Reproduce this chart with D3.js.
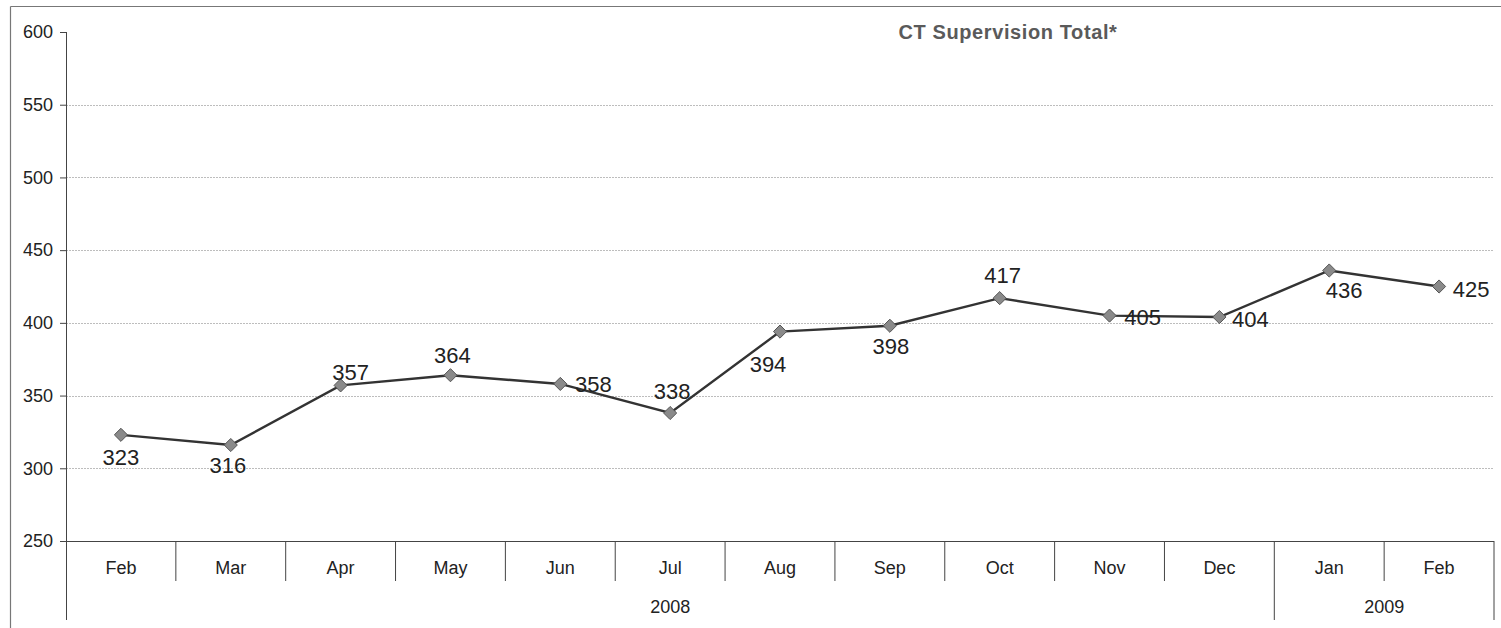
<!DOCTYPE html>
<html>
<head>
<meta charset="utf-8">
<script src="https://cdn.jsdelivr.net/npm/d3@7"></script>
<style>
body { margin:0; background:#fff; }
text { font-family: Arial, "Liberation Sans", sans-serif; }
</style>
</head>
<body>
<svg id="graph1"></svg>
<script>
var months = ["Feb","Mar","Apr","May","Jun","Jul","Aug","Sep","Oct","Nov","Dec","Jan","Feb"]
var years = ["2008","2008","2008","2008","2008","2008","2008","2008","2008","2008","2008","2009","2009"]
var totals = [323,316,357,364,358,338,394,398,417,405,404,436,425]
var yTicks = [250,300,350,400,450,500,550,600]

// where each data label sits relative to its point [dx, dy]
var labelNudge = [[0,30],[-3,28],[10,-5],[2,-12],[33,8],[2,-14],[-12,40],[1,28],[3,-15],[33,9],[31,10],[15,27],[32,10]]

var screen = {width:1501, height:628}
var margins = {left:66, right:7, top:32, bottom:87}
var graph = {
    width: screen.width-margins.left-margins.right,
    height: screen.height-margins.top-margins.bottom
}

var svg = d3.select("#graph1")
    .attr("width", screen.width)
    .attr("height", screen.height)

// outer chart frame
svg.append("line").attr("x1",10.5).attr("x2",10.5).attr("y1",6.5).attr("y2",screen.height)
    .attr("stroke","#777").attr("stroke-width",1.2)
svg.append("line").attr("x1",10.5).attr("x2",screen.width).attr("y1",6.5).attr("y2",6.5)
    .attr("stroke","#777").attr("stroke-width",1.2)

var data = totals.map(function(v,i){ return {idx:i, month:months[i], year:years[i], total:v} })

var xScale = d3.scaleBand()
    .domain(d3.range(months.length))
    .range([0, graph.width])

var yScale = d3.scaleLinear()
    .domain([250,600])
    .range([graph.height,0])

var target = svg.append("g")
    .attr("transform","translate("+margins.left+","+margins.top+")")

// gridlines
target.append("g").selectAll("line")
    .data(yTicks.filter(function(t){ return t>250 && t<600 }))
    .enter().append("line")
    .attr("x1",0).attr("x2",graph.width)
    .attr("y1",function(t){ return Math.round(yScale(t))+0.5 })
    .attr("y2",function(t){ return Math.round(yScale(t))+0.5 })
    .attr("stroke","#bdbdbd")
    .attr("stroke-dasharray","2,1")

// y axis
var yAxis = d3.axisLeft(yScale).tickValues(yTicks).tickSize(6).tickPadding(7)
var yG = target.append("g").call(yAxis)
yG.select(".domain").remove()
yG.selectAll("line").attr("stroke","#444")
yG.selectAll("text").attr("font-size","18px").attr("fill","#222")
    .attr("font-family","Arial, 'Liberation Sans', sans-serif")
target.append("line").attr("x1",0.5).attr("x2",0.5).attr("y1",0).attr("y2",graph.height+79)
    .attr("stroke","#444")

// category axis
target.append("line").attr("x1",0).attr("x2",graph.width)
    .attr("y1",graph.height+0.5).attr("y2",graph.height+0.5).attr("stroke","#444")

var cat = target.append("g").attr("transform","translate(0,"+graph.height+")")
cat.selectAll(".sep")
    .data(d3.range(1, months.length+1))
    .enter().append("line")
    .attr("x1",function(i){ return i<months.length ? xScale(i) : graph.width })
    .attr("x2",function(i){ return i<months.length ? xScale(i) : graph.width })
    .attr("y1",0)
    .attr("y2",function(i){ return (i==months.length || years[i]!=years[i-1]) ? 79 : 40 })
    .attr("stroke","#444")

cat.selectAll(".month")
    .data(data).enter().append("text")
    .attr("x",function(d){ return xScale(d.idx)+xScale.bandwidth()/2 })
    .attr("y",33)
    .attr("text-anchor","middle")
    .attr("font-size","18px").attr("fill","#222")
    .text(function(d){ return d.month })

var yearGroups = d3.groups(data, function(d){ return d.year })
cat.selectAll(".year")
    .data(yearGroups).enter().append("text")
    .attr("x",function(g){
        var first = g[1][0].idx, last = g[1][g[1].length-1].idx
        return (xScale(first)+xScale(last)+xScale.bandwidth())/2
    })
    .attr("y",72)
    .attr("text-anchor","middle")
    .attr("font-size","18px").attr("fill","#222")
    .text(function(g){ return g[0] })

// line
var line = d3.line()
    .x(function(d){ return xScale(d.idx)+xScale.bandwidth()/2 })
    .y(function(d){ return yScale(d.total) })

target.append("path").datum(data)
    .attr("d",line)
    .attr("fill","none")
    .attr("stroke","#333")
    .attr("stroke-width",2.4)

target.selectAll(".pt")
    .data(data).enter().append("path")
    .attr("d", d3.symbol().type(d3.symbolDiamond2).size(110))
    .attr("transform",function(d){
        return "translate("+(xScale(d.idx)+xScale.bandwidth()/2)+","+yScale(d.total)+")"
    })
    .attr("fill","#8a8a8a")
    .attr("stroke","#555")
    .attr("stroke-width",1)

target.selectAll(".lbl")
    .data(data).enter().append("text")
    .attr("x",function(d){ return xScale(d.idx)+xScale.bandwidth()/2+labelNudge[d.idx][0] })
    .attr("y",function(d){ return yScale(d.total)+labelNudge[d.idx][1] })
    .attr("text-anchor","middle")
    .attr("font-size","22px").attr("fill","#222")
    .text(function(d){ return d.total })

// title
svg.append("text")
    .text("CT Supervision Total*")
    .attr("x",1008).attr("y",39)
    .attr("text-anchor","middle")
    .attr("font-size","20px").attr("font-weight","bold")
    .attr("letter-spacing","0.6px")
    .attr("fill","#5a5a5a")
</script>
</body>
</html>
